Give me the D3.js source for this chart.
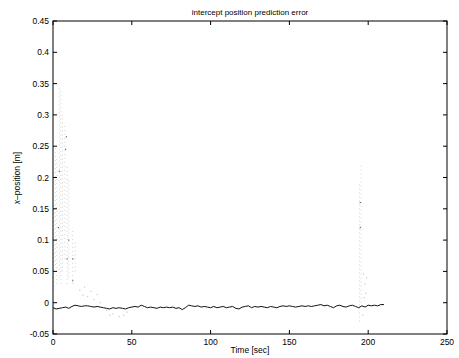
<!DOCTYPE html>
<html>
<head>
<meta charset="utf-8">
<script src="https://cdn.jsdelivr.net/npm/d3@7"></script>
<style>
  body { margin: 0; background: #fff; }
  svg { display: block; font-family: "Liberation Sans", Arial, sans-serif; }
</style>
</head>
<body>
<svg id="chart" width="459" height="358"></svg>
<script>
// tick labels
const xTicks = [0, 50, 100, 150, 200, 250];
const yTicks = [-0.05, 0, 0.05, 0.1, 0.15, 0.2, 0.25, 0.3, 0.35, 0.4, 0.45];

// black error line, sampled every 2 sec from 0 to 210
const lineStep = 2;
const lineValues = [
  -0.008, -0.010, -0.009, -0.008, -0.007, -0.009,
  -0.006, -0.004, -0.005, -0.006, -0.005,
  -0.005, -0.006, -0.007, -0.006, -0.007,
  -0.008, -0.009, -0.010, -0.008, -0.009,
  -0.008, -0.009, -0.010, -0.008, -0.007,
  -0.006, -0.007, -0.004, -0.006, -0.008,
  -0.007, -0.008, -0.009, -0.007, -0.008,
  -0.007, -0.008, -0.007, -0.009, -0.008,
  -0.011, -0.008, -0.004, -0.005, -0.006,
  -0.005, -0.007, -0.006, -0.007, -0.008,
  -0.006, -0.008, -0.007, -0.006, -0.008,
  -0.007, -0.006, -0.009, -0.010, -0.007,
  -0.006, -0.005, -0.008, -0.006, -0.007,
  -0.006, -0.007, -0.008, -0.006, -0.007,
  -0.008, -0.006, -0.005, -0.006, -0.005,
  -0.006, -0.007, -0.006, -0.005, -0.006,
  -0.005, -0.006, -0.005, -0.004, -0.003,
  -0.005, -0.004, -0.006, -0.008, -0.005,
  -0.004, -0.006, -0.007, -0.005, -0.004,
  -0.006, -0.008, -0.005, -0.007, -0.004,
  -0.005, -0.004, -0.005, -0.003, -0.003
];

// gray prediction columns: [time, low, high]
const predColumns = [
  [0.5, 0.02, 0.16], [1.5, 0.06, 0.25], [2.5, 0.03, 0.23],
  [4.0, 0.04, 0.345], [5.0, 0.03, 0.34], [6.0, 0.05, 0.30],
  [7.5, 0.07, 0.285], [9.0, 0.03, 0.22], [10.0, 0.04, 0.20],
  [12.5, 0.03, 0.12], [14.0, 0.05, 0.10],
  [194.5, -0.03, 0.19], [195.5, 0.0, 0.22]
];

// scattered gray prediction points: [time, value]
const predPoints = [
  [17, 0.02], [19, 0.012], [20, 0.025], [22, 0.01], [24, 0.018], [26, 0.005],
  [28, 0.013], [30, 0.0], [34, -0.012], [36, -0.02], [38, -0.018], [42, -0.022],
  [45, -0.02], [47, -0.015], [197, 0.046], [198, 0.03], [198.5, 0.015],
  [199, 0.04], [197.5, 0.008], [196.5, -0.02]
];

// darker points inside the columns
const darkPoints = [
  [8, 0.245], [8.5, 0.265], [4, 0.21], [9, 0.07], [12.5, 0.07], [12.5, 0.035],
  [3.5, 0.12], [10, 0.1], [195, 0.16], [195, 0.12]
];

const svg = d3.select('#chart');
const x = d3.scaleLinear().domain([0, 250]).range([53, 447]);
const y = d3.scaleLinear().domain([-0.05, 0.45]).range([334, 21]);

const plot = svg.append('g');

// gray columns
plot.selectAll('.col')
  .data(predColumns)
  .enter()
  .append('line')
  .attr('x1', d => x(d[0]))
  .attr('x2', d => x(d[0]))
  .attr('y1', d => y(d[1]))
  .attr('y2', d => y(d[2]))
  .attr('stroke', '#d2d2d2')
  .attr('stroke-width', 1)
  .attr('stroke-dasharray', '1,3');

plot.selectAll('.pt')
  .data(predPoints)
  .enter()
  .append('rect')
  .attr('x', d => x(d[0]) - 0.6)
  .attr('y', d => y(d[1]) - 0.6)
  .attr('width', 1.2)
  .attr('height', 1.2)
  .attr('fill', '#c8c8c8');

plot.selectAll('.dk')
  .data(darkPoints)
  .enter()
  .append('rect')
  .attr('x', d => x(d[0]) - 0.6)
  .attr('y', d => y(d[1]) - 0.6)
  .attr('width', 1.2)
  .attr('height', 1.2)
  .attr('fill', '#666');

// black line
const line = d3.line()
  .x((d, i) => x(i * lineStep))
  .y(d => y(d));

plot.append('path')
  .datum(lineValues)
  .attr('d', line)
  .attr('fill', 'none')
  .attr('stroke', '#111')
  .attr('stroke-width', 1);

// frame
svg.append('rect')
  .attr('x', x(0))
  .attr('y', y(0.45))
  .attr('width', x(250) - x(0))
  .attr('height', y(-0.05) - y(0.45))
  .attr('fill', 'none')
  .attr('stroke', '#000')
  .attr('stroke-width', 1);

// inward ticks on all sides
const tl = 4;
const xt = svg.append('g');
xTicks.forEach(t => {
  xt.append('line').attr('x1', x(t)).attr('x2', x(t)).attr('y1', y(-0.05)).attr('y2', y(-0.05) - tl).attr('stroke', '#000');
  xt.append('line').attr('x1', x(t)).attr('x2', x(t)).attr('y1', y(0.45)).attr('y2', y(0.45) + tl).attr('stroke', '#000');
  xt.append('text')
    .attr('x', x(t))
    .attr('y', y(-0.05) + 11)
    .attr('text-anchor', 'middle')
    .style('font-size', '8.5px')
    .text(t);
});

const yt = svg.append('g');
yTicks.forEach(t => {
  yt.append('line').attr('x1', x(0)).attr('x2', x(0) + tl).attr('y1', y(t)).attr('y2', y(t)).attr('stroke', '#000');
  yt.append('line').attr('x1', x(250)).attr('x2', x(250) - tl).attr('y1', y(t)).attr('y2', y(t)).attr('stroke', '#000');
  yt.append('text')
    .attr('x', x(0) - 4)
    .attr('y', y(t) + 3)
    .attr('text-anchor', 'end')
    .style('font-size', '8.5px')
    .text(t === -0.05 ? '-0.05' : t);
});

// labels
svg.append('text')
  .attr('x', 250)
  .attr('y', 15)
  .attr('text-anchor', 'middle')
  .style('font-size', '8px')
  .text('intercept position prediction error');

svg.append('text')
  .attr('x', 250)
  .attr('y', 353)
  .attr('text-anchor', 'middle')
  .style('font-size', '8.5px')
  .text('Time [sec]');

const yl = svg.append('text')
  .attr('transform', 'translate(20,178) rotate(-90)')
  .attr('text-anchor', 'middle')
  .style('font-size', '8.5px');
yl.append('tspan').style('font-style', 'italic').text('x');
yl.append('tspan').text('\u2013position [m]');
</script>
</body>
</html>
